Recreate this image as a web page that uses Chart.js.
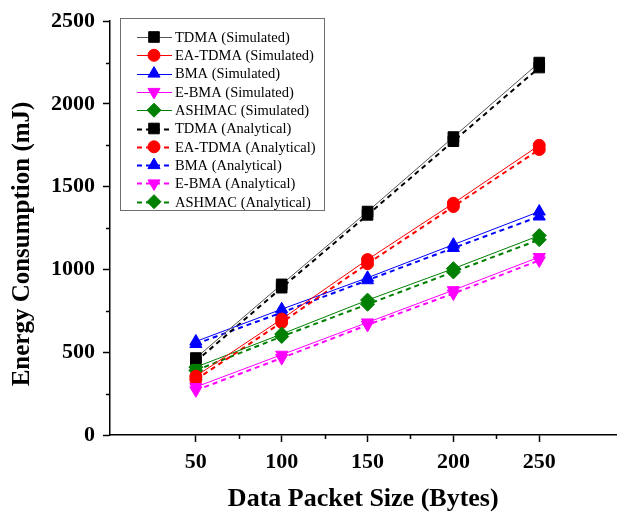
<!DOCTYPE html>
<html>
<head>
<meta charset="utf-8">
<title>Energy Consumption vs Data Packet Size</title>
<script src="https://cdn.jsdelivr.net/npm/chart.js@4.4.1/dist/chart.umd.min.js"></script>
<style>
    html, body { margin: 0; padding: 0; background: #fff; }
    #wrap { width: 625px; height: 518px; }
</style>
</head>
<body>
<div id="wrap"><canvas id="energyChart" width="625" height="518"></canvas></div>
<script>
// Packet sizes (bytes) and energy consumption (mJ) per protocol
const packetSizes = [50, 100, 150, 200, 250];

const tdmaSim   = [465, 910, 1350, 1800, 2250];
const eaTdmaSim = [355, 700, 1060, 1400, 1750];
const bmaSim    = [565, 760, 950, 1150, 1350];
const eBmaSim   = [290, 485, 680, 875, 1075];
const ashmacSim = [410, 610, 815, 1005, 1205];

const tdmaAna   = [445, 890, 1330, 1775, 2220];
const eaTdmaAna = [335, 680, 1035, 1380, 1725];
const bmaAna    = [550, 740, 935, 1130, 1320];
const eBmaAna   = [270, 465, 665, 855, 1055];
const ashmacAna = [390, 595, 790, 985, 1180];

const xTicks = [50, 100, 150, 200, 250];
const xMinorTicks = [75, 125, 175, 225];
const yMinorTicks = [250, 750, 1250, 1750, 2250];

const serif = '"Liberation Serif", "Times New Roman", serif';

function toPoints(values) {
    return packetSizes.map((x, i) => ({ x: x, y: values[i] }));
}

function series(label, values, color, style, radius, rotation, analytical) {
    return {
        label: label,
        data: toPoints(values),
        borderColor: color,
        backgroundColor: color,
        borderWidth: analytical ? 2 : 1,
        borderDash: analytical ? [5, 4] : [],
        pointStyle: style,
        pointRadius: radius,
        pointHoverRadius: radius,
        pointRotation: rotation,
        pointBorderWidth: 1,
        pointBorderColor: color,
        pointBackgroundColor: color,
        tension: 0,
        fill: false
    };
}

const datasets = [
    series('TDMA (Simulated)', tdmaSim, '#000000', 'rect', 7.5, 0, false),
    series('EA-TDMA (Simulated)', eaTdmaSim, '#ff0000', 'circle', 6, 0, false),
    series('BMA (Simulated)', bmaSim, '#0000ff', 'triangle', 7, 0, false),
    series('E-BMA (Simulated)', eBmaSim, '#ff00ff', 'triangle', 7, 180, false),
    series('ASHMAC (Simulated)', ashmacSim, '#008000', 'rectRot', 7, 0, false),
    series('TDMA (Analytical)', tdmaAna, '#000000', 'rect', 7.5, 0, true),
    series('EA-TDMA (Analytical)', eaTdmaAna, '#ff0000', 'circle', 6, 0, true),
    series('BMA (Analytical)', bmaAna, '#0000ff', 'triangle', 7, 0, true),
    series('E-BMA (Analytical)', eBmaAna, '#ff00ff', 'triangle', 7, 180, true),
    series('ASHMAC (Analytical)', ashmacAna, '#008000', 'rectRot', 7, 0, true)
];
// the simulated black trace reads as a thin grey line
datasets[0].borderColor = '#555555';

// Short outward minor ticks between the major ones, plus the y title
const minorTicksPlugin = {
    id: 'minorTicks',
    afterDraw(chart) {
        const ctx = chart.ctx;
        const xs = chart.scales.x;
        const ys = chart.scales.y;
        ctx.save();
        ctx.strokeStyle = '#000';
        ctx.lineWidth = 1.5;
        ctx.beginPath();
        xMinorTicks.forEach(v => {
            const px = Math.round(xs.getPixelForValue(v)) + 0.5;
            ctx.moveTo(px, ys.bottom);
            ctx.lineTo(px, ys.bottom + 4);
        });
        yMinorTicks.forEach(v => {
            const py = Math.round(ys.getPixelForValue(v)) + 0.5;
            ctx.moveTo(xs.left, py);
            ctx.lineTo(xs.left - 4, py);
        });
        ctx.stroke();

        ctx.fillStyle = '#000';
        ctx.font = 'bold 25px ' + serif;
        ctx.textAlign = 'center';
        ctx.textBaseline = 'middle';
        ctx.translate(23, 244);
        ctx.rotate(-Math.PI / 2);
        ctx.fillText('Energy Consumption (mJ)', 0, 0);
        ctx.restore();
    }
};

// Boxed legend with line sample and marker per series
const boxLegendPlugin = {
    id: 'boxLegend',
    afterDraw(chart) {
        const ctx = chart.ctx;
        const box = { left: 120.5, top: 18.5, width: 204, height: 192 };
        ctx.save();
        ctx.fillStyle = '#fff';
        ctx.fillRect(box.left, box.top, box.width, box.height);
        ctx.strokeStyle = '#6e6e6e';
        ctx.lineWidth = 1;
        ctx.strokeRect(box.left, box.top, box.width, box.height);

        chart.data.datasets.forEach((ds, i) => {
            const y = 37 + i * 18.3;
            ctx.save();
            ctx.strokeStyle = ds.borderColor;
            ctx.lineWidth = ds.borderWidth;
            ctx.setLineDash(ds.borderDash);
            ctx.beginPath();
            ctx.moveTo(137, Math.round(y) + 0.5);
            ctx.lineTo(172, Math.round(y) + 0.5);
            ctx.stroke();
            ctx.setLineDash([]);
            ctx.fillStyle = ds.pointBackgroundColor;
            ctx.strokeStyle = ds.pointBorderColor;
            ctx.lineWidth = 1;
            Chart.helpers.drawPoint(ctx, {
                pointStyle: ds.pointStyle,
                rotation: ds.pointRotation,
                radius: ds.pointRadius,
                borderWidth: 1
            }, 154, y);
            ctx.restore();

            ctx.fillStyle = '#000';
            ctx.font = '14.5px ' + serif;
            ctx.textAlign = 'left';
            ctx.textBaseline = 'middle';
            ctx.fillText(ds.label, 175, y + 1);
        });
        ctx.restore();
    }
};

const config = {
    type: 'line',
    data: { datasets: datasets },
    options: {
        responsive: false,
        animation: false,
        layout: { padding: { top: 19, right: 0, left: 0, bottom: 0 } },
        plugins: {
            legend: { display: false },
            tooltip: { enabled: false }
        },
        scales: {
            x: {
                type: 'linear',
                min: 0,
                max: 295,
                afterBuildTicks: scale => {
                    scale.ticks = xTicks.map(v => ({ value: v }));
                },
                afterFit: scale => { scale.height = 83; },
                grid: {
                    drawOnChartArea: false,
                    drawTicks: true,
                    tickLength: 7,
                    tickColor: '#000',
                    tickWidth: 1.5
                },
                border: { color: '#000', width: 1.5 },
                ticks: {
                    color: '#000',
                    padding: 7,
                    maxRotation: 0,
                    callback: v => String(v),
                    font: { family: serif, size: 22, weight: 'bold' }
                },
                title: {
                    display: true,
                    text: 'Data Packet Size (Bytes)',
                    color: '#000',
                    padding: { top: 0, bottom: 3 },
                    font: { family: serif, size: 26, weight: 'bold' }
                }
            },
            y: {
                min: 0,
                max: 2500,
                ticks: {
                    stepSize: 500,
                    color: '#000',
                    padding: 8,
                    callback: v => String(v),
                    font: { family: serif, size: 22, weight: 'bold' }
                },
                afterFit: scale => { scale.width = 110; },
                grid: {
                    drawOnChartArea: false,
                    drawTicks: true,
                    tickLength: 7,
                    tickColor: '#000',
                    tickWidth: 1.5
                },
                border: { color: '#000', width: 1.5 }
            }
        }
    },
    plugins: [minorTicksPlugin, boxLegendPlugin]
};

new Chart(document.getElementById('energyChart'), config);
</script>
</body>
</html>
